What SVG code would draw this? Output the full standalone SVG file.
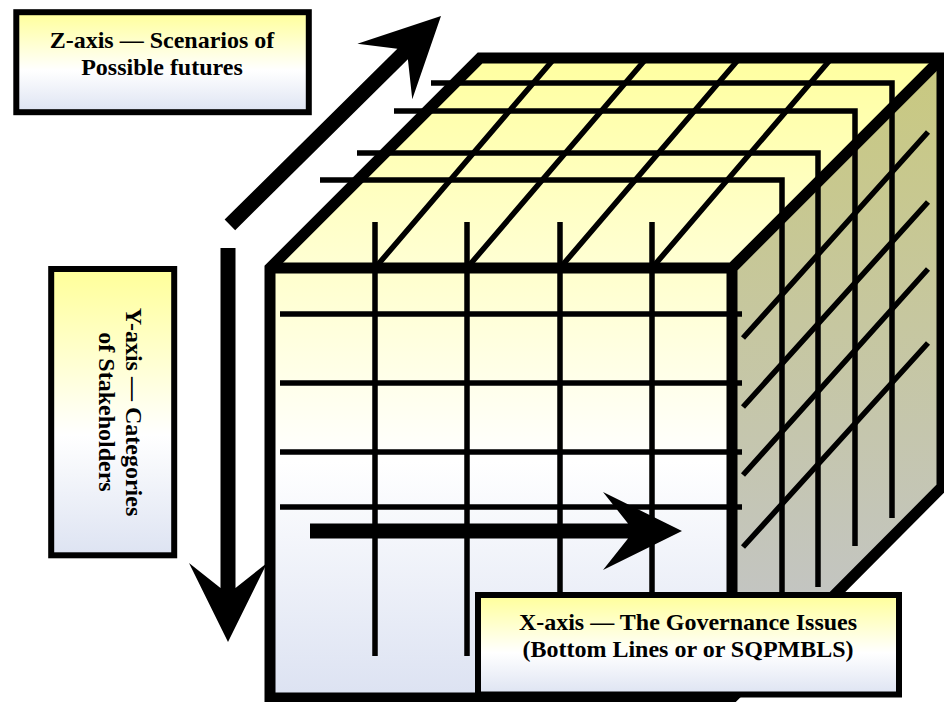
<svg xmlns="http://www.w3.org/2000/svg" width="944" height="702" viewBox="0 0 944 702">
<style>
.lbl{font-family:"Liberation Serif","Times New Roman",serif;font-weight:bold;font-size:24px;fill:#000;text-anchor:middle}
.box{stroke:#000;stroke-width:6;fill:url(#boxGrad)}
.edge{fill:none;stroke:#000;stroke-width:11;stroke-linejoin:miter}
.grid{fill:none;stroke:#000;stroke-width:5.5;stroke-linejoin:miter}
.arrow{fill:#000;stroke:none}
</style>
<defs>
<linearGradient id="boxGrad" x1="0" y1="0" x2="0" y2="1">
<stop offset="0" stop-color="#FFFF99"/>
<stop offset="0.58" stop-color="#FFFFFF"/>
<stop offset="1" stop-color="#DDE3F2"/>
</linearGradient>
<linearGradient id="frontGrad" gradientUnits="userSpaceOnUse" x1="0" y1="268" x2="0" y2="698">
<stop offset="0" stop-color="#FFFFCC"/>
<stop offset="0.45" stop-color="#FFFFFF"/>
<stop offset="1" stop-color="#DCE2F2"/>
</linearGradient>
<linearGradient id="topGrad" gradientUnits="userSpaceOnUse" x1="0" y1="58" x2="0" y2="268">
<stop offset="0" stop-color="#FFFFA0"/>
<stop offset="1" stop-color="#FFFFD4"/>
</linearGradient>
<linearGradient id="rightGrad" gradientUnits="userSpaceOnUse" x1="0" y1="58" x2="0" y2="697">
<stop offset="0" stop-color="#C9C97F"/>
<stop offset="1" stop-color="#C2C4CE"/>
</linearGradient>
</defs>

<g id="cube">
<rect x="270" y="268" width="462" height="430" fill="url(#frontGrad)"/>
<polygon points="270,268 480,58 942,58 732,268" fill="url(#topGrad)"/>
<polygon points="732,268 942,58 942,487 732,697" fill="url(#rightGrad)"/>
</g>

<g id="grid">
<!-- front face horizontals -->
<path class="grid" d="M280,314H742M280,383H742M280,452H742M280,507H742"/>
<!-- front face verticals -->
<path class="grid" d="M375,222V656M467,222V656M560,222V656M652,222V656"/>
<!-- top face diagonals -->
<path class="grid" d="M375,268L553,60M467,268L645,60M560,268L738,60M652,268L830,60"/>
<!-- top face horizontals turning down the right face -->
<path class="grid" d="M320,180H782V640"/>
<path class="grid" d="M357,153H818V587"/>
<path class="grid" d="M394,111H855V546"/>
<path class="grid" d="M431,83H892V518"/>
<!-- right face diagonals -->
<path class="grid" d="M743,338L928,132M743,407L928,202M743,475L928,269M743,547L928,343"/>
</g>

<g id="cube-edges">
<path class="edge" d="M270,698V268L480,58H942V487L732,698Z"/>
<path class="edge" d="M270,268H732V698M732,268L942,58"/>
</g>

<g id="connectors">
<path id="z-arrow" class="arrow" transform="translate(441,16) rotate(-44.7)" d="M-297,-7.5L-54,-7.5L-79,-39L0,0L-79,39L-54,7.5L-297,7.5Z"/>
<path id="y-arrow" class="arrow" transform="translate(228,642) rotate(90)" d="M-394,-7.5L-54,-7.5L-79,-39L0,0L-79,39L-54,7.5L-394,7.5Z"/>
<path id="x-arrow" class="arrow" transform="translate(682,531)" d="M-372,-7.5L-54,-7.5L-79,-39L0,0L-79,39L-54,7.5L-372,7.5Z"/>
</g>

<g id="z-label">
<rect class="box" x="16.3" y="12.2" width="292.5" height="100"/>
<text class="lbl" x="162" y="48">Z-axis — Scenarios of</text>
<text class="lbl" x="162" y="75">Possible futures</text>
</g>

<g id="y-label">
<rect class="box" x="51.2" y="269" width="123" height="286.3"/>
<text class="lbl" transform="translate(125.5,412) rotate(90)">Y-axis — Categories</text>
<text class="lbl" transform="translate(98.5,412) rotate(90)">of Stakeholders</text>
</g>

<g id="x-label">
<rect class="box" x="478" y="595" width="421" height="99.5"/>
<text class="lbl" x="688" y="630">X-axis — The Governance Issues</text>
<text class="lbl" x="688" y="657">(Bottom Lines or or SQPMBLS)</text>
</g>
</svg>
